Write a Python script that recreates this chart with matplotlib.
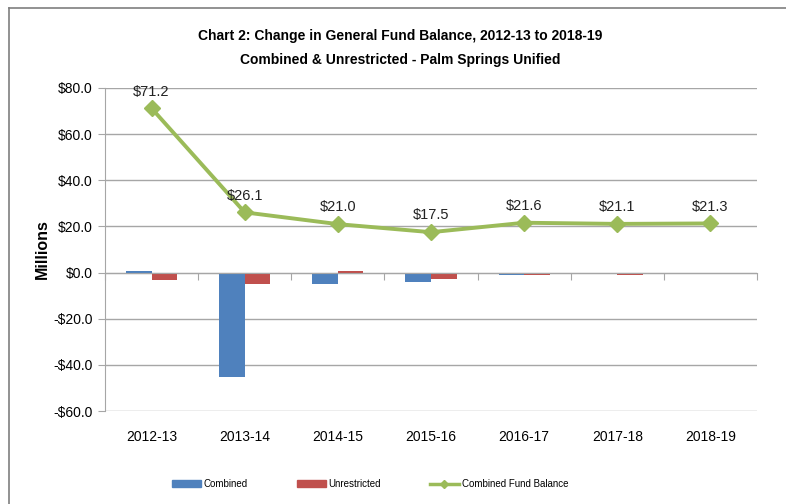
import matplotlib.pyplot as plt
import matplotlib.lines as mlines
import matplotlib.patches as mpatches
import matplotlib.transforms as mtransforms
import numpy as np

plt.rcParams['font.family'] = ['Liberation Sans', 'DejaVu Sans']

years = ['2012-13', '2013-14', '2014-15', '2015-16', '2016-17', '2017-18', '2018-19']
combined = [0.7, -45.1, -5.1, -3.9, -1.0, -0.3, 0.0]
unrestricted = [-3.2, -4.9, 0.6, -2.8, -1.0, -1.1, -0.5]
fund_balance = [71.2, 26.1, 21.0, 17.5, 21.6, 21.1, 21.3]

blue = '#4F81BD'
red = '#C0504D'
green = '#9BBB59'
grid_gray = '#A6A6A6'

fig = plt.figure(figsize=(7.86, 5.04), dpi=100)
ax = fig.add_axes([105 / 786, 1 - 411 / 504, 652 / 786, 323 / 504])

x = np.arange(len(years))
w = 0.275
ax.bar(x - w / 2, combined, w, color=blue, zorder=2)
ax.bar(x + w / 2, unrestricted, w, color=red, zorder=2)
ax.plot(x, fund_balance, color=green, lw=2.8, marker='D', ms=8, zorder=3)

for xi, v in zip(x, fund_balance):
    ax.annotate(f'${v:.1f}', (xi, v), xytext=(0, 7), textcoords='offset points',
                ha='center', va='bottom', fontsize=10.5, color='#222222')

ax.set_xlim(-0.5, len(years) - 0.5)
ax.set_ylim(-60, 80)
ax.set_yticks(np.arange(-60, 81, 20))
ax.set_yticklabels([f'-${abs(t):.1f}' if t < 0 else f'${t:.1f}' for t in np.arange(-60, 81, 20)],
                   fontsize=10)
ax.yaxis.grid(True, color=grid_gray, lw=1)
ax.set_axisbelow(True)

# category axis crosses at zero, labels stay at the bottom
ax.spines['bottom'].set_position(('data', 0))
ax.spines['bottom'].set_color(grid_gray)
ax.spines['left'].set_color(grid_gray)
ax.spines['top'].set_visible(False)
ax.spines['right'].set_visible(False)
ax.set_xticks(np.arange(-0.5, len(years), 1.0))
ax.set_xticklabels([])
ax.tick_params(axis='x', direction='out', length=5, color=grid_gray)
ax.tick_params(axis='y', direction='out', length=5, color=grid_gray, pad=4)

trans = mtransforms.blended_transform_factory(ax.transData, ax.transAxes)
for xi, lab in zip(x, years):
    ax.text(xi, -0.08, lab, transform=trans, ha='center', va='center', fontsize=10)

ax.set_ylabel('Millions', fontsize=11.5, fontweight='bold', labelpad=2)

fig.text(400 / 786, 1 - 36 / 504, 'Chart 2: Change in General Fund Balance, 2012-13 to 2018-19',
         ha='center', va='center', fontsize=10, fontweight='bold')
fig.text(400 / 786, 1 - 60 / 504, 'Combined & Unrestricted - Palm Springs Unified',
         ha='center', va='center', fontsize=10, fontweight='bold')

handles = [mpatches.Patch(color=blue, label='Combined'),
           mpatches.Patch(color=red, label='Unrestricted'),
           mlines.Line2D([], [], color=green, lw=2.5, marker='D', ms=4, label='Combined Fund Balance')]
fig.legend(handles=handles, loc='center', bbox_to_anchor=(370 / 786, 1 - 484 / 504), ncol=3,
           frameon=False, fontsize=7, handlelength=3.0, handleheight=0.7,
           columnspacing=5.0, handletextpad=0.3)

# outer chart border (left and top edges visible)
fig.add_artist(mlines.Line2D([9 / 786, 9 / 786], [0, 1 - 8 / 504], color='#7F7F7F', lw=1.2))
fig.add_artist(mlines.Line2D([9 / 786, 1], [1 - 8 / 504, 1 - 8 / 504], color='#7F7F7F', lw=1.2))

fig.savefig('out.png', dpi=100)
